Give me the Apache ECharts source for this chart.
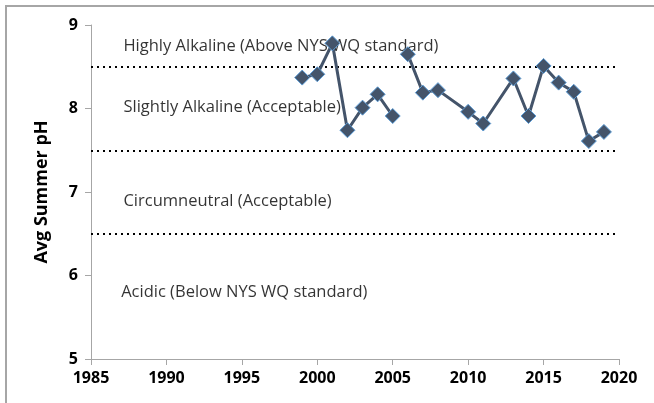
<!DOCTYPE html>
<html>
<head>
<meta charset="utf-8">
<script src="https://cdn.jsdelivr.net/npm/echarts@6/dist/echarts.min.js"></script>
<style>
html,body{margin:0;padding:0;background:#fff;}
#c{width:654px;height:403px;}
</style>
</head>
<body>
<div id="c"></div>
<script>
// Data
const years = [1999, 2000, 2001, 2002, 2003, 2004, 2005, 2006, 2007, 2008, 2010, 2011, 2013, 2014, 2015, 2016, 2017, 2018, 2019];
const phValues = [8.37, 8.41, 8.78, 7.74, 8.01, 8.17, 7.91, 8.65, 8.19, 8.22, 7.96, 7.82, 8.36, 7.91, 8.51, 8.31, 8.20, 7.61, 7.72];
const segmentStartYears = [1999, 2006]; // line is broken between 2005 and 2006
const thresholds = [8.5, 7.5, 6.5];
const zoneLabels = ['Highly Alkaline (Above NYS WQ standard)', 'Slightly Alkaline (Acceptable)', 'Circumneutral (Acceptable)', 'Acidic (Below NYS WQ standard)'];
const zoneLabelX = [1987.15, 1987.15, 1987.15, 1987.0];
const zoneLabelY = [8.74, 8.02, 6.89, 5.80];
const xTicks = [1985, 1990, 1995, 2000, 2005, 2010, 2015, 2020];
const yTicks = [5, 6, 7, 8, 9];

const pairs = years.map((y, i) => [y, phValues[i]]);
const segments = segmentStartYears.map((s, k) => {
  const e = k + 1 < segmentStartYears.length ? segmentStartYears[k + 1] : Infinity;
  return pairs.filter(p => p[0] >= s && p[0] < e);
});

const FONT = '"Open Sans", sans-serif';
const chart = echarts.init(document.getElementById('c'), null, {renderer: 'canvas'});
const axisGray = '#A6A6A6';
const lineSeries = segments.map((d, k) => ({
  type: 'line',
  data: d,
  symbol: 'diamond',
  symbolSize: 15,
  lineStyle: {color: '#44546A', width: 3},
  itemStyle: {color: '#44546A', borderColor: '#5B9BD5', borderWidth: 1},
  z: 5,
  animation: false,
  markLine: k === 0 ? {
    silent: true,
    symbol: 'none',
    label: {show: false},
    lineStyle: {color: '#000', type: [2, 4], width: 2},
    data: thresholds.map(t => ({yAxis: t}))
  } : undefined
}));

chart.setOption({
  animation: false,
  backgroundColor: '#fff',
  grid: {left: 91, right: 35, top: 25, bottom: 44, containLabel: false},
  xAxis: {
    type: 'value', min: 1985, max: 2020, interval: 5,
    axisLine: {show: true, lineStyle: {color: axisGray, width: 1}},
    axisTick: {show: true, length: 6, lineStyle: {color: axisGray}},
    splitLine: {show: false},
    axisLabel: {color: '#000', fontWeight: 'bold', fontSize: 16, fontFamily: FONT, margin: 11,
      formatter: v => xTicks.includes(v) ? String(v) : ''}
  },
  yAxis: {
    type: 'value', min: 5, max: 9, interval: 1,
    name: 'Avg Summer pH', nameLocation: 'middle', nameGap: 40,
    nameTextStyle: {color: '#000', fontWeight: 'bold', fontSize: 18, fontFamily: FONT},
    axisLine: {show: true, lineStyle: {color: axisGray, width: 1}},
    axisTick: {show: true, length: 6, lineStyle: {color: axisGray}},
    splitLine: {show: false},
    axisLabel: {color: '#000', fontWeight: 'bold', fontSize: 16, fontFamily: FONT, margin: 13,
      formatter: v => yTicks.includes(v) ? String(v) : ''}
  },
  graphic: [{
    type: 'rect', silent: true,
    shape: {x: 6, y: 6, width: 700, height: 450},
    style: {fill: null, stroke: '#A6A6A6', lineWidth: 2}
  }],
  series: lineSeries.concat([{
    type: 'scatter',
    data: zoneLabels.map((t, i) => ({value: [zoneLabelX[i], zoneLabelY[i]], name: t})),
    symbolSize: 0,
    silent: true,
    z: 3,
    label: {
      show: true, position: 'right', distance: 0,
      formatter: p => p.name,
      color: '#000', fontSize: 16.5, fontFamily: FONT
    }
  }])
});
</script>
</body>
</html>
